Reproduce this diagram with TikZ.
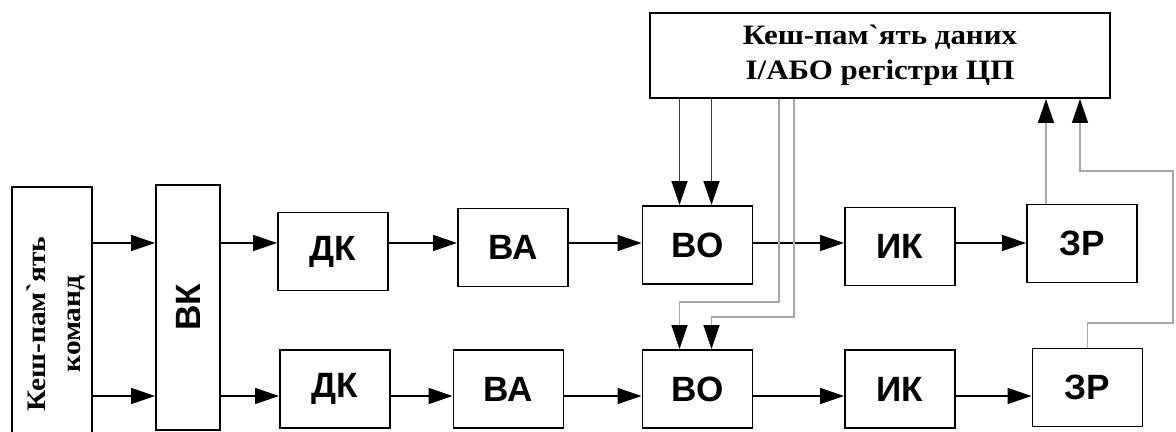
\documentclass[tikz,border=0pt]{standalone}
\usepackage{fontspec}
\usepackage{graphicx}
\setmainfont{Liberation Serif}
\newfontfamily\blocksans{Liberation Sans}
\newfontfamily\cacheserif[FakeStretch=1.1,Ligatures=TeXOff]{Liberation Serif}
\usetikzlibrary{arrows.meta}
\tikzset{
  stage/.style={draw, line width=1.4pt, minimum width=2.75cm, minimum height=1.95cm,
    inner sep=0pt, font=\blocksans\bfseries\fontsize{25}{28}\selectfont},
  cachebox/.style={draw, line width=1.4pt, inner sep=0pt, align=center,
    font=\cacheserif\bfseries\fontsize{20}{25}\selectfont},
  tip/.style={-{Triangle[length=6mm,width=4mm,color=black]}},
  flow/.style={tip, line width=1.2pt},
  feed/.style={tip, black!75, line width=1pt},
  bus/.style={gray!70, line width=1pt},
}
\begin{document}
\begin{tikzpicture}
\useasboundingbox (0,0) rectangle (29.4,10.8);
% command cache and fetch
\node[draw, line width=1.4pt, minimum width=2cm, minimum height=6.175cm] (KC) at (1.3,3.04) {};
\node[rotate=90, align=center, font=\cacheserif\bfseries\fontsize{19}{25}\selectfont] (KCtext) at (1.4,2.7) {Кеш-пам`ять\\команд};
\node[stage, minimum width=1.6cm, minimum height=6.125cm] (VK) at (4.7,3.1125) {\rotatebox{90}{ВК}};
% data cache
\node[cachebox, minimum width=11.5cm, minimum height=2.125cm] (DC) at (22.0,9.4125) {Кеш-пам`ять даних\\І/АБО регістри ЦП};
% first pipeline
\node[stage] (DKa) at (8.325,4.5125) {ДК};
\node[stage] (VAa) at (12.825,4.6125) {ВА};
\node[stage] (VOa) at (17.4375,4.675) {ВО};
\node[stage] (IKa) at (22.5,4.6375) {ИК};
\node[stage] (ZRa) at (27.05,4.7125) {ЗР};
% second pipeline
\node[stage] (DKb) at (8.375,1.075) {ДК};
\node[stage] (VAb) at (12.7125,1.075) {ВА};
\node[stage] (VOb) at (17.4375,1.075) {ВО};
\node[stage] (IKb) at (22.5,1.075) {ИК};
\node[stage] (ZRb) at (27.1875,1.1125) {ЗР};
\coordinate (row1) at (0,4.725);
\coordinate (row2) at (0,0.9);
\draw [flow] (KC.east |- row1) -- (VK.west |- row1);
\draw [flow] (KC.east |- row2) -- (VK.west |- row2);
\draw [flow] (VK.east |- row1) -- (DKa.west |- row1);
\draw [flow] (VK.east |- row2) -- (DKb.west |- row2);
\draw [flow] (DKa.east |- row1) -- (VAa.west |- row1);
\draw [flow] (DKb.east |- row2) -- (VAb.west |- row2);
\draw [flow] (VAa.east |- row1) -- (VOa.west |- row1);
\draw [flow] (VAb.east |- row2) -- (VOb.west |- row2);
\draw [flow] (VOa.east |- row1) -- (IKa.west |- row1);
\draw [flow] (VOb.east |- row2) -- (IKb.west |- row2);
\draw [flow] (IKa.east |- row1) -- (ZRa.west |- row1);
\draw [flow] (IKb.east |- row2) -- (ZRb.west |- row2);
% operands from the data cache
\coordinate (VOa1) at ([xshift=-0.45cm]VOa.north);
\coordinate (VOa2) at ([xshift=0.35cm]VOa.north);
\coordinate (VOb1) at ([xshift=-0.45cm]VOb.north);
\coordinate (VOb2) at ([xshift=0.35cm]VOb.north);
\draw [feed] (DC.south -| VOa1) -- (VOa1);
\draw [feed] (DC.south -| VOa2) -- (VOa2);
\coordinate (tap1) at (19.475,3.25);
\coordinate (tap2) at (19.85,2.875);
\draw [bus, tip] (DC.south -| tap1) -- (tap1) -| (VOb1);
\draw [bus, tip] (DC.south -| tap2) -- (tap2) -| (VOb2);
% results written back
\coordinate (ZRa1) at ([xshift=-0.9cm]ZRa.north);
\draw [bus, tip] (ZRa1) -- (ZRa1 |- DC.south);
\coordinate (loop1) at (29.325,2.725);
\coordinate (loop2) at (27.0,6.525);
\draw [bus, tip] (ZRb.north) |- (loop1) |- (loop2) -- (loop2 |- DC.south);
\end{tikzpicture}
\end{document}
